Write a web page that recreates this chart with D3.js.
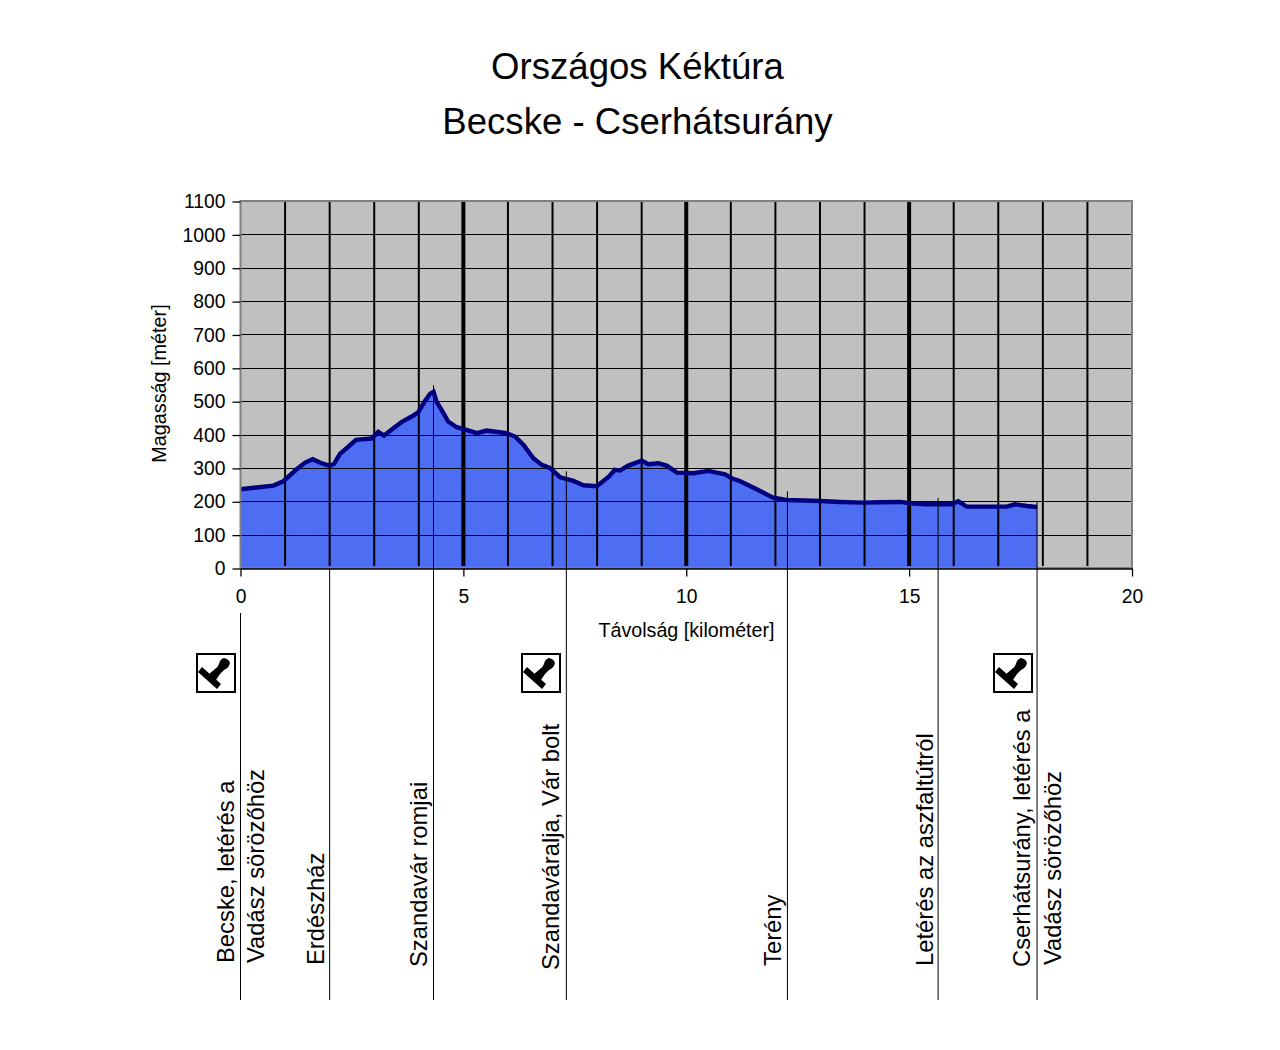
<!DOCTYPE html>
<html>
<head>
<meta charset="utf-8">
<script src="https://cdn.jsdelivr.net/npm/d3@7"></script>
<style>
  html, body { margin: 0; background: #fff; }
  svg { display: block; }
  text { font-family: "Liberation Sans", Arial, sans-serif; fill: #000; }
</style>
</head>
<body>
<div id="chart"></div>
<script>
const titleLines = ['Országos Kéktúra', 'Becske - Cserhátsurány']
const xLabel = 'Távolság [kilométer]'
const yLabel = 'Magasság [méter]'
const xTicks = [0, 5, 10, 15, 20]
const yTicks = [0, 100, 200, 300, 400, 500, 600, 700, 800, 900, 1000, 1100]

// profile
const distance = [0, 0.74, 0.96, 1.26, 1.45, 1.62, 1.78, 2.0, 2.1, 2.23, 2.38, 2.59, 2.94, 3.09, 3.22, 3.43, 3.62, 3.84, 3.99, 4.12, 4.25, 4.33, 4.4, 4.51, 4.66, 4.85, 5.07, 5.3, 5.52, 5.97, 6.16, 6.35, 6.57, 6.76, 6.94, 7.17, 7.47, 7.69, 7.99, 8.25, 8.4, 8.51, 8.7, 9.0, 9.15, 9.37, 9.56, 9.79, 10.16, 10.49, 10.87, 11.02, 11.2, 11.58, 11.95, 12.25, 13, 13.45, 13.97, 14.35, 14.8, 15.02, 15.39, 15.96, 16.1, 16.29, 17.19, 17.38, 17.64, 17.87]
const elevation = [236, 247, 260, 296, 316, 326, 316, 306, 312, 342, 359, 384, 388, 408, 397, 419, 438, 454, 467, 497, 522, 528, 498, 474, 439, 422, 414, 404, 412, 404, 394, 369, 329, 309, 300, 272, 261, 248, 245, 272, 294, 292, 307, 322, 311, 314, 307, 286, 284, 291, 281, 269, 261, 236, 211, 204, 201, 198, 196, 197, 198, 194, 191, 191, 200, 184, 184, 191, 186, 183]

// waypoints: where the thin line sits and how high it reaches into the plot
const waypointKm = [0, 2, 4.33, 7.31, 12.27, 15.65, 17.87]
const waypointReach = [0, 0, 548, 290, 230, 210, 198]
const stampKm = [0, 7.31, 17.89]

const width = 1280
const height = 1050
const plot = { left: 240.5, right: 1132, top: 201, bottom: 568 }

const x = d3.scaleLinear().domain([0, 20]).range([plot.left, plot.right])
const y = d3.scaleLinear().domain([0, 1100]).range([plot.bottom, plot.top])

const svg = d3.select('#chart').append('svg').attr('width', width).attr('height', height)

svg.selectAll('.title').data(titleLines).join('text')
  .attr('class', 'title')
  .attr('x', 637.5)
  .attr('y', (d, i) => 79 + i * 55)
  .attr('text-anchor', 'middle')
  .attr('font-size', 36.6)
  .text(d => d)

svg.append('rect')
  .attr('x', plot.left).attr('y', plot.top)
  .attr('width', plot.right - plot.left).attr('height', plot.bottom - plot.top)
  .attr('fill', '#c0c0c0')

const profile = distance.map((d, i) => ({ km: d, m: elevation[i] }))

const area = d3.area().x(d => x(d.km)).y0(y(0)).y1(d => y(d.m))
svg.append('path').datum(profile).attr('d', area).attr('fill', '#4d6df3')

// grid goes over the fill, the profile line over the grid
svg.append('g').selectAll('line').data(d3.range(1, 20)).join('line')
  .attr('x1', d => x(d)).attr('x2', d => x(d))
  .attr('y1', plot.top).attr('y2', plot.bottom - 2)
  .attr('stroke', '#000')
  .attr('stroke-width', d => (d % 5 === 0 ? 4 : 2))

svg.append('g').selectAll('line').data(yTicks.slice(1, -1)).join('line')
  .attr('x1', plot.left).attr('x2', plot.right)
  .attr('y1', d => Math.round(y(d)) + 0.5).attr('y2', d => Math.round(y(d)) + 0.5)
  .attr('stroke', '#000')
  .attr('stroke-width', 1.2)

const line = d3.line().x(d => x(d.km)).y(d => y(d.m))
svg.append('path').datum(profile).attr('d', line)
  .attr('fill', 'none').attr('stroke', '#000080').attr('stroke-width', 4.4)

svg.append('rect')
  .attr('x', plot.left).attr('y', plot.top)
  .attr('width', plot.right - plot.left).attr('height', plot.bottom - plot.top)
  .attr('fill', 'none').attr('stroke', '#808080').attr('stroke-width', 2)

const xAxis = d3.axisBottom(x).tickValues(xTicks).tickSize(8).tickPadding(13).tickSizeOuter(0).tickFormat(d3.format('d'))
const yAxis = d3.axisLeft(y).tickValues(yTicks).tickSize(8).tickPadding(7).tickSizeOuter(0).tickFormat(d3.format('d'))

const gx = svg.append('g').attr('transform', `translate(0,${plot.bottom + 0.5})`).call(xAxis)
const gy = svg.append('g').attr('transform', `translate(${plot.left},0.5)`).call(yAxis)
gy.select('.domain').remove()
gx.select('.domain').attr('stroke', '#000').attr('stroke-width', 1.3)
for (const g of [gx, gy]) {
  g.selectAll('.tick line').attr('stroke', '#000').attr('stroke-width', 1.3)
  g.selectAll('text').attr('font-size', 19.3).attr('font-family', '"Liberation Sans", Arial, sans-serif')
}

svg.append('text')
  .attr('x', 686.5).attr('y', 637)
  .attr('text-anchor', 'middle').attr('font-size', 19.7)
  .text(xLabel)

svg.append('text')
  .attr('transform', 'translate(166,383.5) rotate(-90)')
  .attr('text-anchor', 'middle').attr('font-size', 19.8)
  .text(yLabel)

// thin lines from the profile down to the names
svg.append('g').selectAll('line').data(waypointKm).join('line')
  .attr('x1', d => x(d)).attr('x2', d => x(d))
  .attr('y1', (d, i) => (i === 0 ? 613 : y(waypointReach[i])))
  .attr('y2', 1000)
  .attr('stroke', '#000')
  .attr('stroke-width', 1)

const names = [
  ['Becske, letérés a', 234, 963],
  ['Vadász sörözőhöz', 264, 963],
  ['Erdészház', 324, 965],
  ['Szandavár romjai', 427, 967],
  ['Szandaváralja, Vár bolt', 559, 970],
  ['Terény', 781, 966],
  ['Letérés az aszfaltútról', 933, 966],
  ['Cserhátsurány, letérés a', 1030, 967],
  ['Vadász sörözőhöz', 1061, 965]
]
svg.append('g').selectAll('text').data(names).join('text')
  .attr('transform', d => `translate(${d[1]},${d[2]}) rotate(-90)`)
  .attr('font-size', 23.8)
  .text(d => d[0])

// stamp icon, one per stamping point, sits left of its line
const stamps = svg.append('g').selectAll('g').data(stampKm).join('g')
  .attr('transform', d => `translate(${Math.round(x(d)) - 45},653)`)
stamps.append('rect')
  .attr('x', 1).attr('y', 1).attr('width', 38).attr('height', 38)
  .attr('fill', '#fff').attr('stroke', '#000').attr('stroke-width', 2)
stamps.append('path')
  .attr('d', 'M6 14 L2 19 L21 36 L25 31 Z M13 21 L20 27 L24 21 L28 17 Q33 15 34 10 Q33 6 28 5 Q24 6 23 11 Q22 14 19 16 Z')
  .attr('fill', '#000')
</script>
</body>
</html>
